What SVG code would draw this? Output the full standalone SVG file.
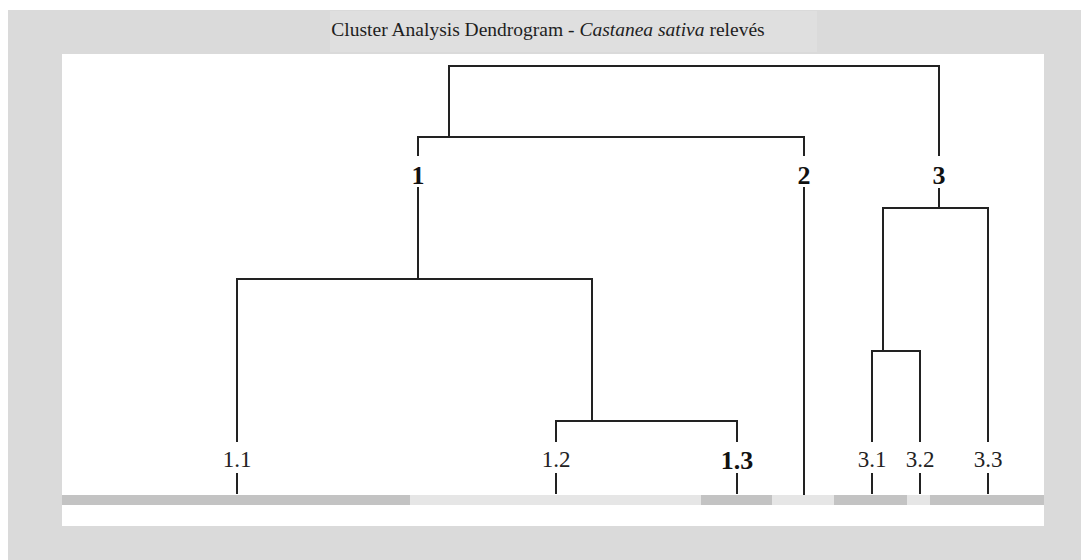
<svg xmlns="http://www.w3.org/2000/svg" width="1081" height="560" viewBox="0 0 1081 560">
  <style>
    .lbl { font-family: "Liberation Serif", "Times New Roman", serif; font-size: 23px; fill: #222; text-anchor: middle; }
    .bold { font-weight: bold; font-size: 26px; fill: #111; }
    .title { font-family: "Liberation Serif", "Times New Roman", serif; font-size: 19.5px; fill: #1e1e1e; text-anchor: middle; }
    .edge { fill: none; stroke: #222; stroke-width: 2; stroke-linecap: square; }
    .dark { fill: #c3c3c3; }
    .light { fill: #e6e6e6; }
  </style>

  <!-- frame -->
  <rect x="0" y="0" width="1081" height="560" fill="#ffffff"/>
  <rect x="8" y="10" width="1073" height="550" fill="#dadada"/>
  <rect x="330" y="11" width="487" height="41" fill="#dfdfdf"/>
  <text class="title" x="548" y="36">Cluster Analysis Dendrogram - <tspan font-style="italic">Castanea sativa</tspan> relevés</text>

  <!-- plot area -->
  <rect x="62" y="54" width="982" height="472" fill="#ffffff"/>

  <!-- group bars along the base -->
  <g id="bars">
    <rect class="dark" x="62" y="495" width="348" height="10"/>
    <rect class="light" x="410" y="495" width="291" height="10"/>
    <rect class="dark" x="701" y="495" width="71" height="10"/>
    <rect class="light" x="772" y="495" width="62" height="10"/>
    <rect class="dark" x="834" y="495" width="73" height="10"/>
    <rect class="light" x="907" y="495" width="23" height="10"/>
    <rect class="dark" x="930" y="495" width="114" height="10"/>
  </g>

  <!-- dendrogram branches -->
  <g id="connectors">
    <!-- root -->
    <path class="edge" d="M449 137 V66 H939 V155"/>
    <!-- cluster 1 / 2 -->
    <path class="edge" d="M418 155 V137 H804 V155"/>
    <path class="edge" d="M804 188 V494"/>
    <!-- cluster 1 -->
    <path class="edge" d="M418 188 V279"/>
    <path class="edge" d="M237 441 V279 H592 V421"/>
    <path class="edge" d="M556 441 V421 H737 V441"/>
    <!-- cluster 3 -->
    <path class="edge" d="M939 189 V208"/>
    <path class="edge" d="M883 351 V208 H988 V441"/>
    <path class="edge" d="M872 441 V351 H920 V441"/>
    <!-- leaf ticks -->
    <path class="edge" d="M237 474 V493 M556 474 V493 M737 474 V493 M872 474 V493 M920 474 V493 M988 474 V493"/>
  </g>

  <g id="node-1"><text class="lbl bold" x="418" y="184">1</text></g>
  <g id="node-2"><text class="lbl bold" x="804" y="184">2</text></g>
  <g id="node-3"><text class="lbl bold" x="939" y="184">3</text></g>
  <g id="node-1-1"><text class="lbl" x="237" y="467">1.1</text></g>
  <g id="node-1-2"><text class="lbl" x="556" y="467">1.2</text></g>
  <g id="node-1-3"><text class="lbl bold" x="737" y="469">1.3</text></g>
  <g id="node-3-1"><text class="lbl" x="872" y="467">3.1</text></g>
  <g id="node-3-2"><text class="lbl" x="920" y="467">3.2</text></g>
  <g id="node-3-3"><text class="lbl" x="988" y="467">3.3</text></g>
</svg>
